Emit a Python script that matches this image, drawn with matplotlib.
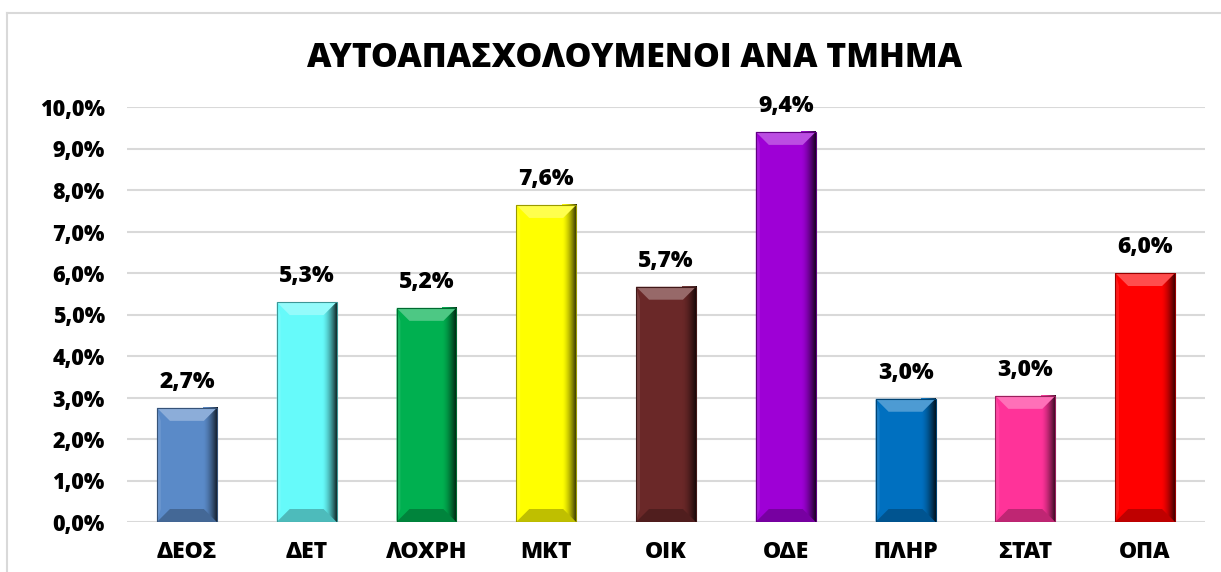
import numpy as np
import matplotlib.pyplot as plt
from matplotlib.patches import Polygon, Rectangle
from matplotlib.colors import to_rgb

# data
categories = ['ΔΕΟΣ', 'ΔΕΤ', 'ΛΟΧΡΗ', 'ΜΚΤ', 'ΟΙΚ', 'ΟΔΕ', 'ΠΛΗΡ', 'ΣΤΑΤ', 'ΟΠΑ']
values = [2.75, 5.30, 5.16, 7.64, 5.67, 9.40, 2.97, 3.04, 6.00]
labels = ['2,7%', '5,3%', '5,2%', '7,6%', '5,7%', '9,4%', '3,0%', '3,0%', '6,0%']
colors = ['#5A8AC8', '#66FAFA', '#00B050', '#FFFF00', '#6A2828',
          '#9E00D6', '#0070C0', '#FF3399', '#FF0000']
yticks = np.arange(0, 11, 1)

plt.rcParams['font.family'] = ['Open Sans', 'DejaVu Sans']

fig = plt.figure(figsize=(12.21, 5.72), dpi=100)
ax = fig.add_axes([127 / 1221, 50 / 572, 1078 / 1221, 415 / 572])

x = np.arange(len(categories))
bars = ax.bar(x, values, width=0.5, color=colors, zorder=2)

ax.set_ylim(0, 10)
ax.set_yticks(yticks)
ax.set_yticklabels(['%d,0%%' % t for t in yticks], fontsize=15.5, fontweight='heavy')
ax.set_xticks(x)
ax.set_xticklabels(categories, fontsize=16.5, fontweight='heavy')
ax.tick_params(length=0)
ax.tick_params(axis='y', pad=16)
ax.tick_params(axis='x', pad=13)
ax.yaxis.grid(True, color='#D9D9D9', linewidth=1.5, zorder=0)
for s in ax.spines.values():
    s.set_visible(False)

# bevel effect on each bar (sizes in pixels converted to data units)
px_x = 1.0 / (1078 / 9)
px_y = 10.0 / 415
bw = 13 * px_x
bh = 13 * px_y


def shade(c, f):
    r = np.array(to_rgb(c))
    if f > 0:
        return tuple(r + (1 - r) * f)
    return tuple(r * (1 + f))


for b, c in zip(bars, colors):
    x0, y0 = b.get_x(), b.get_y()
    w, h = b.get_width(), b.get_height()
    x1, y1 = x0 + w, y0 + h
    base = np.array(to_rgb(c))
    # right side gradient
    grad = np.linspace(0, 1, 50).reshape(1, -1) ** 1.6
    dark = base * 0.15
    img = base[None, None, :] * (1 - grad[..., None]) + dark[None, None, :] * grad[..., None]
    ax.imshow(img, extent=[x1 - 1.1 * bw, x1, y0, y1], aspect='auto', zorder=3,
              interpolation='bilinear')
    ax.add_patch(Polygon([[x0, y1], [x1, y1], [x1 - bw, y1 - bh], [x0 + bw, y1 - bh]],
                         closed=True, facecolor=shade(c, 0.3), edgecolor='none', zorder=4))
    ax.add_patch(Polygon([[x0, y0], [x1, y0], [x1 - bw, y0 + bh], [x0 + bw, y0 + bh]],
                         closed=True, facecolor=shade(c, -0.25), edgecolor='none', zorder=4))
    ax.add_patch(Polygon([[x0, y0], [x0, y1], [x0 + 0.3 * bw, y1 - bh], [x0 + 0.3 * bw, y0 + bh]],
                         closed=True, facecolor=shade(c, 0.1), edgecolor='none', zorder=4))
    ax.add_patch(Rectangle((x0, y0), w, h, facecolor='none',
                           edgecolor=shade(c, -0.4), linewidth=0.8, zorder=5))

for xi, v, lab in zip(x, values, labels):
    ax.text(xi, v + 0.33, lab, ha='center', va='bottom', fontsize=16.5, fontweight='heavy', zorder=6)

ax.set_xlim(-0.5, len(categories) - 0.5)
ax.set_ylim(0, 10)

fig.text(635 / 1221, 1 - 58 / 572, 'ΑΥΤΟΑΠΑΣΧΟΛΟΥΜΕΝΟΙ ΑΝΑ ΤΜΗΜΑ', ha='center', va='center',
         fontsize=24.3, fontweight='heavy')

# chart frame (left and top edges)
fig.add_artist(plt.Line2D([7 / 1221, 7 / 1221], [0, 1 - 13 / 572], color='#D9D9D9', linewidth=1.5))
fig.add_artist(plt.Line2D([7 / 1221, 1], [1 - 13 / 572, 1 - 13 / 572], color='#D9D9D9', linewidth=1.5))

fig.savefig('out.png', dpi=100)
